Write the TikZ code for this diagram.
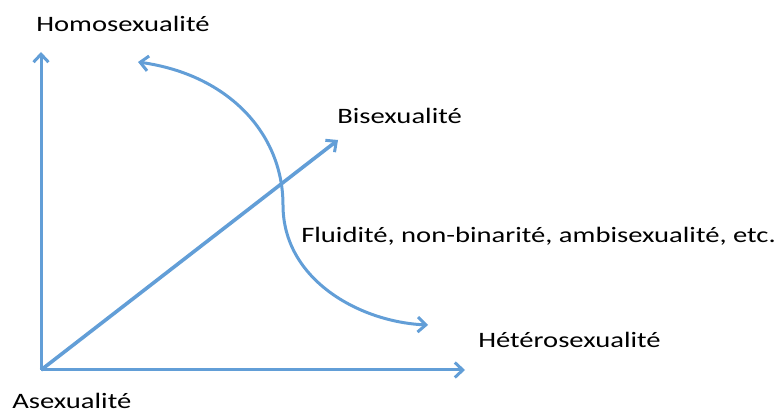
\documentclass[tikz,border=0pt]{standalone}
\usepackage{fontspec}
\setmainfont{Carlito}
\usetikzlibrary{arrows.meta}
\definecolor{axisblue}{RGB}{98,158,215}

\tikzset{
  barb/.tip={Straight Barb[length=8pt,width=15pt,line width=3pt]},
  axisline/.style={axisblue,line width=3pt,-barb},
  label/.style={anchor=base west,inner sep=0pt,xscale=1.3,transform shape,
    font=\fontsize{22}{24}\selectfont}
}

\begin{document}
\begin{tikzpicture}[x=1pt,y=-1pt]
  \useasboundingbox (0,0) rectangle (780,414);
  % --- axes -------------------------------------------------------------
  \coordinate (origin) at (41,370);
  \coordinate (homotip) at (41,52);
  \coordinate (heterotip) at (465,370);
  \coordinate (bitip) at (338,140);
  \draw[axisline] (origin) -- (homotip);
  \draw[axisline] (origin) -- (heterotip);
  \draw[axisline,line width=3.6pt] (origin) -- (bitip);
  % --- fluid curve --------------------------------------------------------
  \coordinate (curvetop) at (138,62);
  \coordinate (curvemid) at (283,205);
  \coordinate (curvebot) at (428,325);
  \draw[axisline,barb-barb]
    (curvetop) .. controls (230,75) and (283,135) .. (curvemid)
    .. controls (283,280) and (360,322) .. (curvebot);
  % --- labels -------------------------------------------------------------
  \node[label] (homo) at (36,32) {Homosexualité};
  \node[label] (bi) at (337,124) {Bisexualité};
  \node[label] (fluid) at (301,243) {Fluidité, non-binarité, ambisexualité, etc.};
  \node[label] (hetero) at (478,348) {Hétérosexualité};
  \node[label] (asexual) at (12,408) {Asexualité};
\end{tikzpicture}
\end{document}
